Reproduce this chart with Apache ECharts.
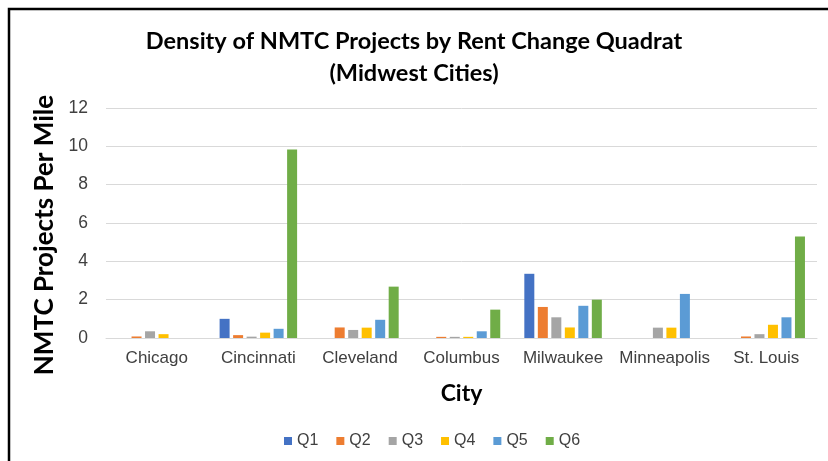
<!DOCTYPE html>
<html>
<head>
<meta charset="utf-8">
<script src="https://cdn.jsdelivr.net/npm/echarts@6/dist/echarts.min.js"></script>
<style>
html,body{margin:0;padding:0;background:#fff;}
#c{width:828px;height:461px;}
</style>
</head>
<body>
<div id="c"></div>
<script>
const categories = ['Chicago', 'Cincinnati', 'Cleveland', 'Columbus', 'Milwaukee', 'Minneapolis', 'St. Louis'];
const seriesNames = ['Q1', 'Q2', 'Q3', 'Q4', 'Q5', 'Q6'];
const q1 = [0, 1.0, 0, 0, 3.35, 0, 0];
const q2 = [0.08, 0.15, 0.55, 0.06, 1.62, 0, 0.08];
const q3 = [0.35, 0.07, 0.42, 0.06, 1.08, 0.54, 0.2];
const q4 = [0.2, 0.28, 0.54, 0.06, 0.55, 0.54, 0.69];
const q5 = [0, 0.48, 0.95, 0.35, 1.68, 2.3, 1.08];
const q6 = [0, 9.84, 2.68, 1.48, 2.0, 0, 5.3];
const yTicks = [0, 2, 4, 6, 8, 10, 12];

const colors = ['#4472C4', '#ED7D31', '#A5A5A5', '#FFC000', '#5B9BD5', '#70AD47'];
const values = [q1, q2, q3, q4, q5, q6];

const chart = echarts.init(document.getElementById('c'), null, {renderer: 'canvas'});
chart.setOption({
  animation: false,
  backgroundColor: '#fff',
  color: colors,
  title: {
    text: 'Density of NMTC Projects by Rent Change Quadrat\n(Midwest Cities)',
    left: 'center',
    top: 20,
    textStyle: {
      fontFamily: 'Lato',
      fontWeight: 'bold',
      fontSize: 23.5,
      lineHeight: 32,
      color: '#000'
    }
  },
  legend: {
    data: seriesNames,
    left: 279,
    top: 428,
    icon: 'rect',
    itemWidth: 8,
    itemHeight: 8,
    itemGap: 18,
    textStyle: {fontFamily: 'Liberation Sans', fontSize: 16, color: '#404040'}
  },
  grid: {left: 106, right: 11, top: 108, bottom: 123},
  xAxis: {
    type: 'category',
    data: categories,
    name: 'City',
    nameLocation: 'middle',
    nameGap: 44,
    nameTextStyle: {fontFamily: 'Lato', fontWeight: 'bold', fontSize: 23, color: '#000'},
    axisLine: {lineStyle: {color: '#d9d9d9', width: 1}},
    axisTick: {show: false},
    axisLabel: {interval: 0, fontFamily: 'Liberation Sans', fontSize: 17, color: '#404040', margin: 12}
  },
  yAxis: {
    type: 'value',
    min: yTicks[0],
    max: yTicks[yTicks.length - 1],
    interval: 2,
    axisLine: {show: false},
    axisTick: {show: false},
    splitLine: {lineStyle: {color: '#d9d9d9', width: 1}},
    axisLabel: {fontFamily: 'Liberation Sans', fontSize: 17.5, color: '#404040', margin: 18}
  },
  series: seriesNames.map((n, i) => ({
    name: n,
    type: 'bar',
    data: values[i],
    barWidth: 10,
    barGap: '35%',
    itemStyle: {color: colors[i]}
  })),
  graphic: [{
    type: 'text',
    x: 45,
    y: 235,
    rotation: Math.PI / 2,
    style: {
      text: 'NMTC Projects Per Mile',
      fontFamily: 'Lato',
      fontWeight: 'bold',
      fontSize: 26,
      fill: '#000',
      textAlign: 'center',
      textVerticalAlign: 'middle'
    },
    silent: true
  }, {
    type: 'rect',
    shape: {x: 9, y: 9, width: 830, height: 470},
    style: {fill: 'none', stroke: '#000', lineWidth: 2.5},
    silent: true,
    z: 100
  }]
});
</script>
</body>
</html>
